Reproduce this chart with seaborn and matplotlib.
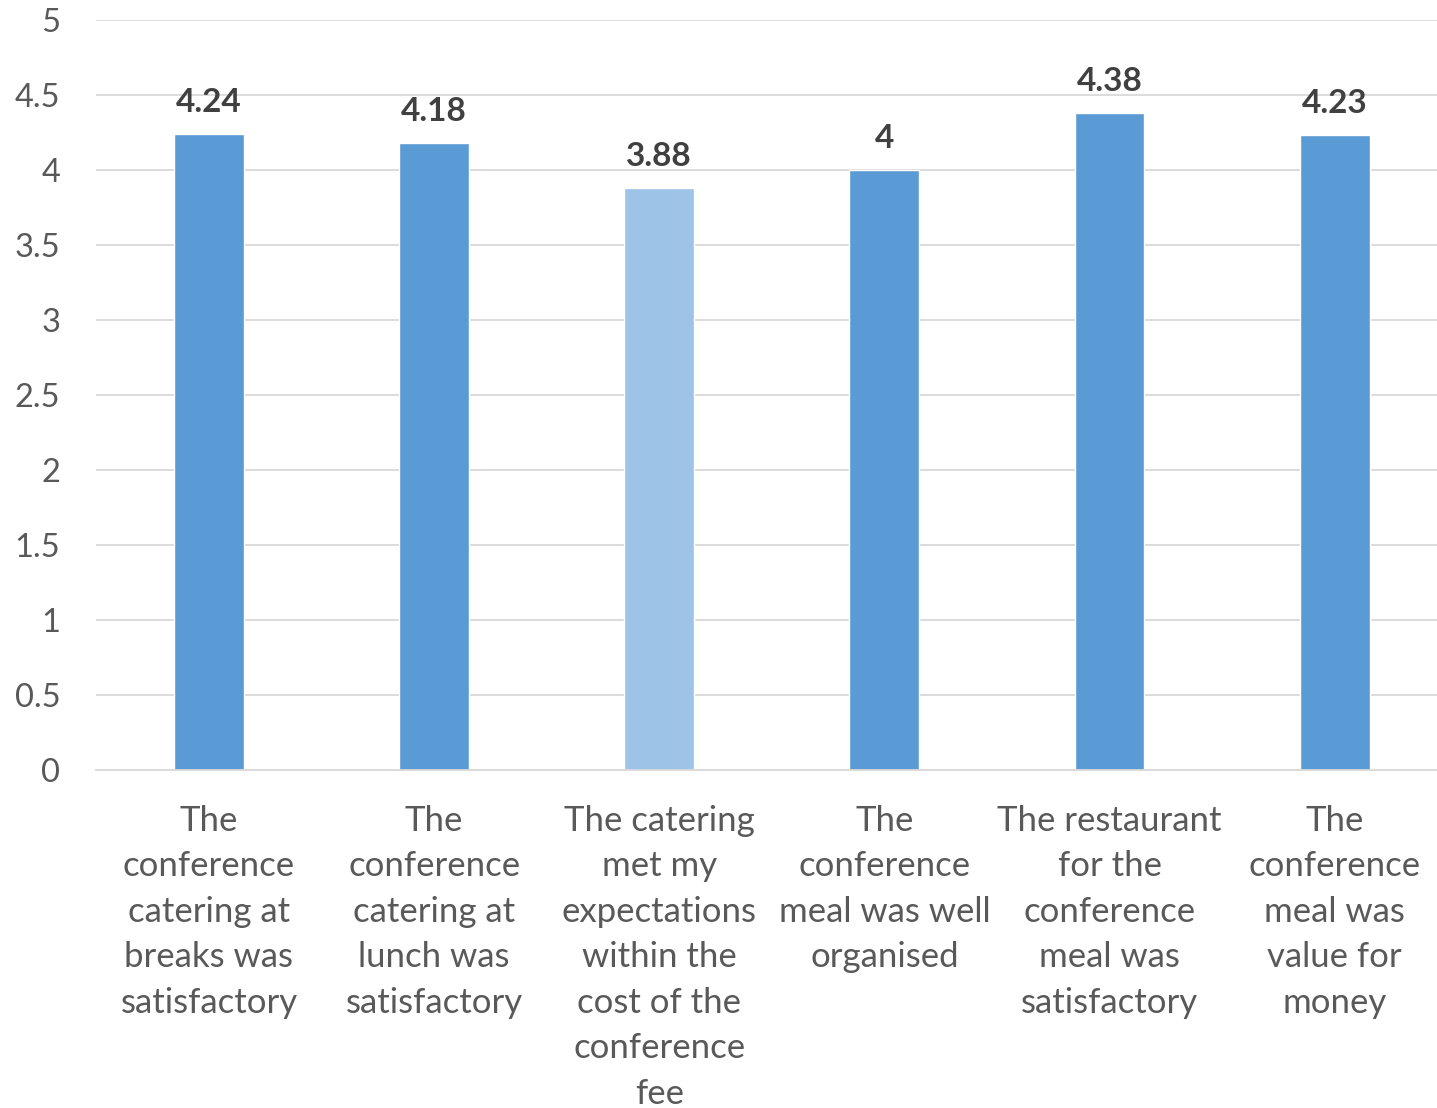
import matplotlib
matplotlib.use("Agg")
import matplotlib.pyplot as plt
import seaborn as sns
import pandas as pd

categories = [
    "The\nconference\ncatering at\nbreaks was\nsatisfactory",
    "The\nconference\ncatering at\nlunch was\nsatisfactory",
    "The catering\nmet my\nexpectations\nwithin the\ncost of the\nconference\nfee",
    "The\nconference\nmeal was well\norganised",
    "The restaurant\nfor the\nconference\nmeal was\nsatisfactory",
    "The\nconference\nmeal was\nvalue for\nmoney",
]
values = [4.24, 4.18, 3.88, 4, 4.38, 4.23]
value_labels = ["4.24", "4.18", "3.88", "4", "4.38", "4.23"]
colors = ["#5B9BD5", "#5B9BD5", "#9DC3E6", "#5B9BD5", "#5B9BD5", "#5B9BD5"]
yticks = [0, 0.5, 1, 1.5, 2, 2.5, 3, 3.5, 4, 4.5, 5]
ytick_labels = ["0", "0.5", "1", "1.5", "2", "2.5", "3", "3.5", "4", "4.5", "5"]

sns.set_theme(style="white")
plt.rcParams['font.family'] = ['Lato', 'DejaVu Sans']

df = pd.DataFrame({"cat": categories, "val": values})

fig = plt.figure(figsize=(14.37, 11.08), dpi=100)
ax = fig.add_axes([0.0671, 0.305, 0.940, 0.677])
sns.barplot(data=df, x="cat", y="val", hue="cat", palette=colors, legend=False,
            width=0.31, ax=ax, saturation=1)

ax.set_ylim(0, 5)
ax.set_xlim(-0.5, 5.5)
ax.set_yticks(yticks)
ax.set_yticklabels(ytick_labels, fontsize=23.5, color="#595959")
ax.set_xticks(range(len(categories)))
ax.set_xticklabels(categories, fontsize=25, color="#595959", linespacing=1.52)
ax.tick_params(axis="both", length=0)
ax.tick_params(axis="x", pad=25)
ax.tick_params(axis="y", pad=26)
ax.set_xlabel("")
ax.set_ylabel("")
ax.grid(axis="y", color="#D9D9D9", linewidth=1.3)
ax.set_axisbelow(True)
for s in ["top", "right", "left"]:
    ax.spines[s].set_visible(False)
ax.spines["bottom"].set_color("#D9D9D9")
ax.spines["bottom"].set_linewidth(1.3)

for i, (v, t) in enumerate(zip(values, value_labels)):
    ax.text(i, v + 0.115, t, ha="center", va="bottom", fontsize=24,
            fontweight="bold", color="#404040")

fig.savefig("out.png", dpi=100)
